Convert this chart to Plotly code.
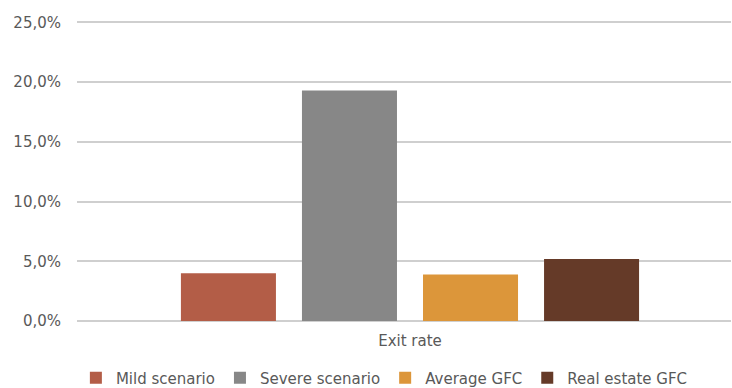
import plotly.graph_objects as go

categories = ["Exit rate"]
series_names = ["Mild scenario", "Severe scenario", "Average GFC", "Real estate GFC"]
series_values = [[0.040], [0.193], [0.039], [0.052]]
series_colors = ["#B35D47", "#878787", "#DC963A", "#653A28"]
y_ticks = [0, 0.05, 0.10, 0.15, 0.20, 0.25]

text_color = "#595959"
font_family = "DejaVu Sans, Arial, sans-serif"

fig = go.Figure()
for name, vals, col in zip(series_names, series_values, series_colors):
    fig.add_trace(go.Bar(
        x=categories, y=vals, name=name,
        marker=dict(color=col, line=dict(color=col, width=0)),
    ))

fig.update_layout(
    width=732, height=388,
    margin=dict(l=77, r=1, t=20, b=67),
    paper_bgcolor="white", plot_bgcolor="white",
    barmode="group", bargap=0.273, bargroupgap=0.215,
    separators=",.",
    font=dict(family=font_family, size=15, color=text_color),
    showlegend=True,
    legend=dict(
        orientation="h", x=0.47, xanchor="center",
        yref="container", y=0.026, yanchor="middle",
        font=dict(size=15, color=text_color), itemwidth=30,
        traceorder="normal",
    ),
    xaxis=dict(range=[-0.5, 0.482], showgrid=False, showline=False, ticks="",
               ticklabelstandoff=9, tickfont=dict(size=15)),
    yaxis=dict(
        range=[0, 0.252], tickvals=y_ticks, tickformat=".1%",
        showgrid=True, gridcolor="#CFCFCF", gridwidth=1.5,
        zeroline=True, zerolinecolor="#CFCFCF", zerolinewidth=1.5,
        showline=False, ticks="", ticklabelstandoff=15,
        tickfont=dict(size=15),
    ),
)

fig.write_html("out.html")
